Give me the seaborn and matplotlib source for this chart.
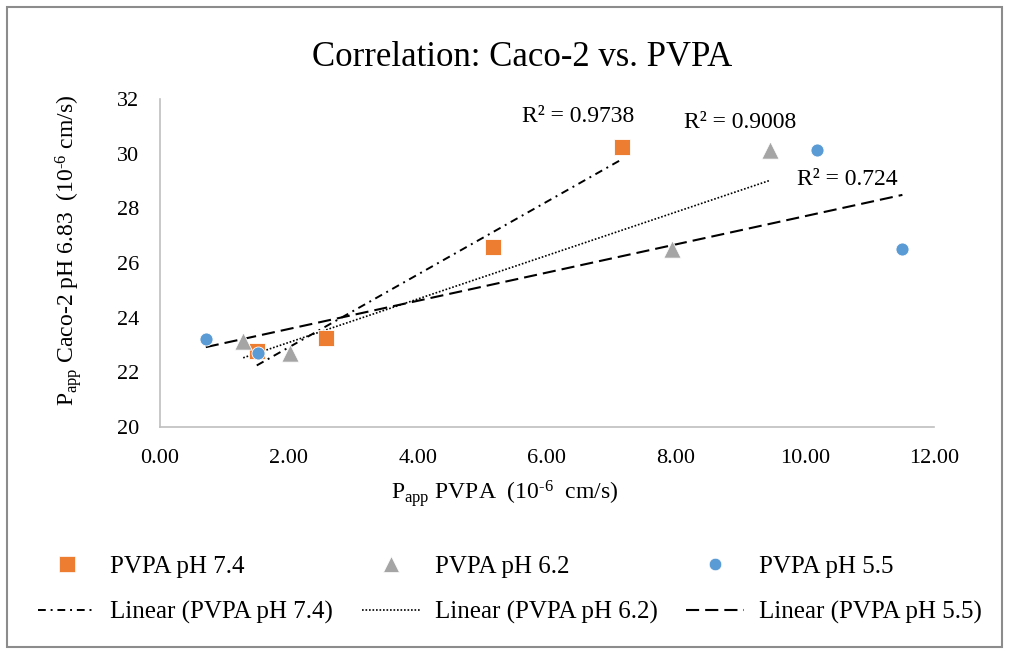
import matplotlib
matplotlib.use("Agg")
import matplotlib.pyplot as plt
import seaborn as sns
import pandas as pd
from matplotlib.lines import Line2D
from matplotlib.patches import Rectangle

# Permeability values (10^-6 cm/s): PVPA on x, Caco-2 on y
ph74_x = [1.50, 2.57, 5.16, 7.16]
ph74_y = [22.78, 23.27, 26.57, 30.23]
ph62_x = [1.29, 2.02, 7.94, 9.45]
ph62_y = [23.16, 22.69, 26.50, 30.13]
ph55_x = [0.71, 1.52, 10.18, 11.51]
ph55_y = [23.21, 22.72, 30.13, 26.50]

series_names = ["PVPA pH 7.4", "PVPA pH 6.2", "PVPA pH 5.5"]
r2_labels = ["R² = 0.9738", "R² = 0.9008", "R² = 0.724"]
r2_pos = [(5.61, 31.37), (8.12, 31.15), (9.87, 29.05)]
x_ticks = [0, 2, 4, 6, 8, 10, 12]
y_ticks = [20, 22, 24, 26, 28, 30, 32]

sns.set_style("white")
plt.rcParams["font.family"] = ["Liberation Serif", "DejaVu Serif"]
plt.rcParams["mathtext.fontset"] = "custom"
plt.rcParams["mathtext.rm"] = "Liberation Serif"
plt.rcParams["mathtext.it"] = "Liberation Serif:italic"
plt.rcParams["text.color"] = "black"

colors = ["#ED7D31", "#A5A5A5", "#5B9BD5"]
markers = ["s", "^", "o"]
msizes = [145, 155, 88]
trend_styles = [(0, (4, 2.5, 1, 2.5)), (0, (1, 1.1)), (0, (6.3, 2.9))]
trend_widths = [1.4, 1.2, 1.5]

df = pd.concat([
    pd.DataFrame({"x": xs, "y": ys, "series": name})
    for xs, ys, name in zip([ph74_x, ph62_x, ph55_x],
                            [ph74_y, ph62_y, ph55_y], series_names)
], ignore_index=True)

W, H = 1009, 652
fig = plt.figure(figsize=(W / 100, H / 100), dpi=100)
ax = fig.add_axes([160 / W, 1 - 427 / H, (934 - 160) / W, (427 - 99) / H])

for i, name in enumerate(series_names):
    sub = df[df["series"] == name]
    sns.regplot(data=sub, x="x", y="y", ax=ax, scatter=False, ci=None,
                truncate=True, color="black",
                line_kws=dict(lw=trend_widths[i], linestyle=trend_styles[i]))

for i, name in enumerate(series_names):
    sub = df[df["series"] == name]
    sns.scatterplot(data=sub, x="x", y="y", ax=ax, marker=markers[i],
                    s=msizes[i], color=colors[i], edgecolor="white",
                    linewidth=0.6, zorder=3, legend=False)

for lab, (tx, ty) in zip(r2_labels, r2_pos):
    ax.text(tx, ty, lab, ha="left", va="center", fontsize=17, color="black")

ax.set_xlim(0, 12)
ax.set_ylim(20, 32)
ax.set_xticks(x_ticks)
ax.set_xticklabels([f"{v:.2f}" for v in x_ticks])
ax.set_yticks(y_ticks)
ax.set_yticklabels([str(v) for v in y_ticks])
ax.tick_params(axis="both", direction="out", length=4, width=1,
               color="#BFBFBF", labelsize=16, labelcolor="black")
ax.tick_params(axis="y", pad=11)
ax.tick_params(axis="x", pad=12)
for side in ["top", "right"]:
    ax.spines[side].set_visible(False)
for side in ["left", "bottom"]:
    ax.spines[side].set_color("#BFBFBF")
    ax.spines[side].set_linewidth(1.2)
ax.set_xlabel("")
ax.set_ylabel("")
ax.grid(False)

fig.text(522 / W, 1 - 58 / H, "Correlation: Caco-2 vs. PVPA",
         ha="center", va="center", fontsize=25, color="black")
fig.text(505 / W, 1 - 494 / H, r"P$_{\mathrm{app}}$ PVPA  (10$^{\text{-}6}$  cm/s)",
         ha="center", va="center", fontsize=17, color="black")
fig.text(69 / W, 1 - 250 / H, r"P$_{\mathrm{app}}$ Caco-2 pH 6.83  (10$^{\text{-}6}$ cm/s)",
         ha="center", va="center", rotation=90, fontsize=17, color="black")

handles = []
for i, name in enumerate(series_names):
    handles.append(Line2D([], [], linestyle="none", marker=markers[i],
                          markersize=[11, 12, 9][i], color=colors[i],
                          markeredgecolor="white", markeredgewidth=0.5))
    handles.append(Line2D([], [], color="black", lw=trend_widths[i],
                          linestyle=trend_styles[i]))
labels = []
for name in series_names:
    labels += [name, f"Linear ({name})"]

fig.legend(handles, labels, ncol=3, loc="upper left",
           bbox_to_anchor=(38 / W, 1 - 555 / H), frameon=False,
           fontsize=18, handlelength=2.3, handletextpad=0.6,
           columnspacing=1.15, labelspacing=0.95, borderpad=0,
           borderaxespad=0)

fig.patches.append(Rectangle((7 / W, 5 / H), (1002 - 7) / W, (645 - 5) / H,
                             transform=fig.transFigure, fill=False,
                             edgecolor="#8C8C8C", lw=1.5))

fig.savefig("out.png", dpi=100)
